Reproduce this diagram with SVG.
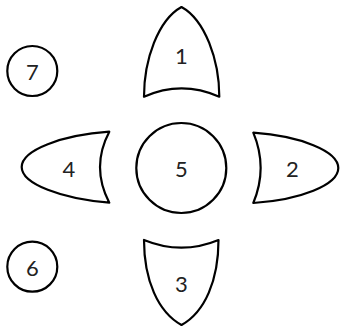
<svg xmlns="http://www.w3.org/2000/svg" width="340" height="327" viewBox="0 0 340 327">
<style>
.s{fill:#fff;stroke:#000;stroke-width:2.2;stroke-linejoin:round}
.t{font-family:Lato,"Open Sans",sans-serif;font-size:22px;fill:#222;text-anchor:middle;dominant-baseline:central}
</style>
<rect width="340" height="327" fill="#fff"/>
<g id="connectors"></g>
<g id="n1"><path class="s" d="M144,96.7 C144,60 158,20 181.5,7 C205,20 219.3,60 219.3,96.7 Q181.5,80 144,96.7 Z"/><text class="t" x="181.5" y="55">1</text></g>
<g id="n2"><path class="s" d="M253.3,132.7 C300,136 338.3,151 338.3,168 C338.3,185 300,200 253.3,203 Q268,168 253.3,132.7 Z"/><text class="t" x="292.5" y="168">2</text></g>
<g id="n3"><path class="s" d="M144,240 C144,280 158,312 181.5,325 C205,312 218.5,280 218.5,240 Q181.5,255.4 144,240 Z"/><text class="t" x="181.5" y="283">3</text></g>
<g id="n4"><path class="s" d="M109.3,131.7 C62,135 21.7,150 21.7,167 C21.7,184 62,199 109.3,202.7 Q90.7,167 109.3,131.7 Z"/><text class="t" x="69" y="168">4</text></g>
<g id="n5"><circle class="s" cx="181.3" cy="168" r="45"/><text class="t" x="181.3" y="168">5</text></g>
<g id="n6"><circle class="s" cx="32.3" cy="266.7" r="25"/><text class="t" x="32.3" y="267">6</text></g>
<g id="n7"><circle class="s" cx="32.3" cy="71" r="25"/><text class="t" x="32.3" y="71">7</text></g>
</svg>
